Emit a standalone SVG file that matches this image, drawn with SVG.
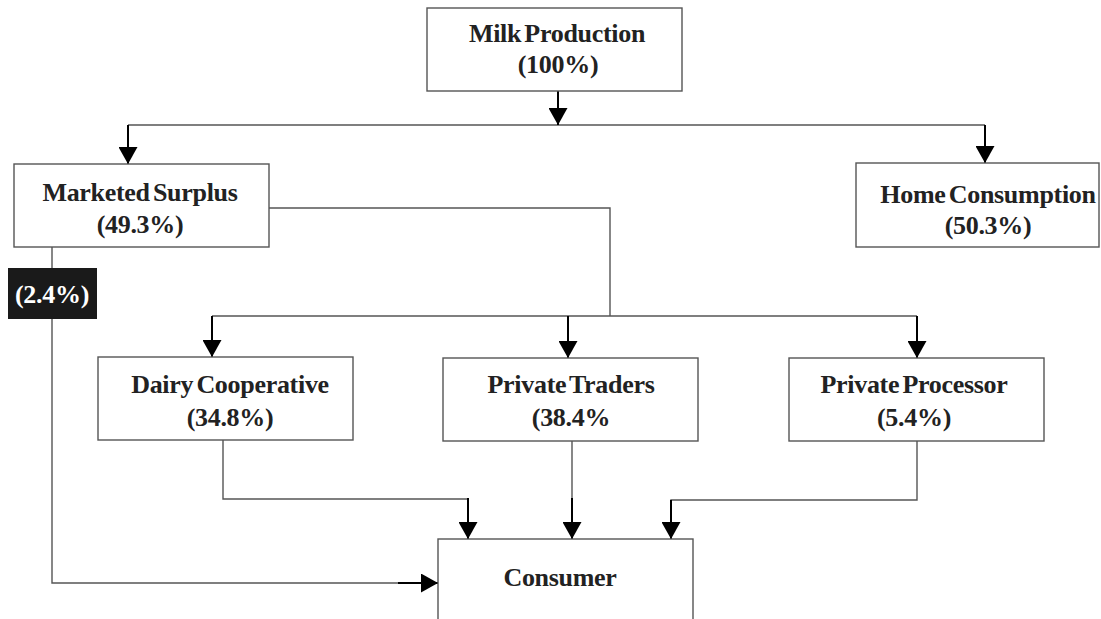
<svg xmlns="http://www.w3.org/2000/svg" width="1101" height="619" viewBox="0 0 1101 619">
<style>
.box{fill:#fff;stroke:#555;stroke-width:1.4}
.t{font-family:"Liberation Serif","Times New Roman",serif;font-weight:bold;font-size:26px;fill:#222;text-anchor:middle;letter-spacing:-0.3px;word-spacing:-3px}
.ln{fill:none;stroke:#555;stroke-width:1.4}
.ar{fill:none;stroke:#000;stroke-width:2;marker-end:url(#ah)}
</style>
<defs>
<marker id="ah" viewBox="0 0 17 19" refX="17" refY="9.5" markerWidth="17" markerHeight="19" markerUnits="userSpaceOnUse" orient="auto">
<path d="M0,0 L17,9.5 L0,19 z" fill="#000"/>
</marker>
</defs>
<rect width="1101" height="619" fill="#fff"/>
<g id="connectors">
<path class="ln" d="M128,125 H985"/>
<path class="ar" d="M558,91 V125"/>
<path class="ar" d="M128,125 V164"/>
<path class="ar" d="M985,125 V163"/>
<path class="ln" d="M269,208 H610 V316"/>
<path class="ln" d="M212,316 H917"/>
<path class="ar" d="M212,316 V357"/>
<path class="ar" d="M568,316 V358"/>
<path class="ar" d="M917,316 V358"/>
<path class="ln" d="M52,247 V583 H400"/>
<path class="ar" d="M398,583 H438"/>
<path class="ln" d="M223,440 V499 H468 V520"/>
<path class="ar" d="M468,498 V539"/>
<path class="ln" d="M572,441 V520"/>
<path class="ar" d="M572,498 V539"/>
<path class="ln" d="M917,441 V500 H671 V520"/>
<path class="ar" d="M671,500 V539"/>
</g>
<g id="milk-production">
<rect class="box" x="427" y="8" width="255" height="83"/>
<text class="t" x="557" y="42">Milk Production</text>
<text class="t" x="558" y="73">(100%)</text>
</g>
<g id="marketed-surplus">
<rect class="box" x="14" y="164" width="255" height="83"/>
<text class="t" x="140" y="201">Marketed Surplus</text>
<text class="t" x="140" y="233">(49.3%)</text>
</g>
<g id="home-consumption">
<rect class="box" x="856" y="163" width="243" height="84"/>
<text class="t" x="988" y="203">Home Consumption</text>
<text class="t" x="988" y="234">(50.3%)</text>
</g>
<g id="direct-share">
<rect x="8" y="268" width="89" height="51" fill="#1a1a1a"/>
<text class="t" x="52" y="303" style="fill:#fff">(2.4%)</text>
</g>
<g id="dairy-cooperative">
<rect class="box" x="98" y="357" width="255" height="83"/>
<text class="t" x="230" y="393">Dairy Cooperative</text>
<text class="t" x="230" y="426">(34.8%)</text>
</g>
<g id="private-traders">
<rect class="box" x="443" y="358" width="255" height="83"/>
<text class="t" x="571" y="393">Private Traders</text>
<text class="t" x="571" y="426">(38.4%</text>
</g>
<g id="private-processor">
<rect class="box" x="789" y="358" width="255" height="83"/>
<text class="t" x="914" y="393">Private Processor</text>
<text class="t" x="914" y="426">(5.4%)</text>
</g>
<g id="consumer">
<rect class="box" x="438" y="539" width="255" height="90"/>
<text class="t" x="560" y="586">Consumer</text>
</g>
</svg>
